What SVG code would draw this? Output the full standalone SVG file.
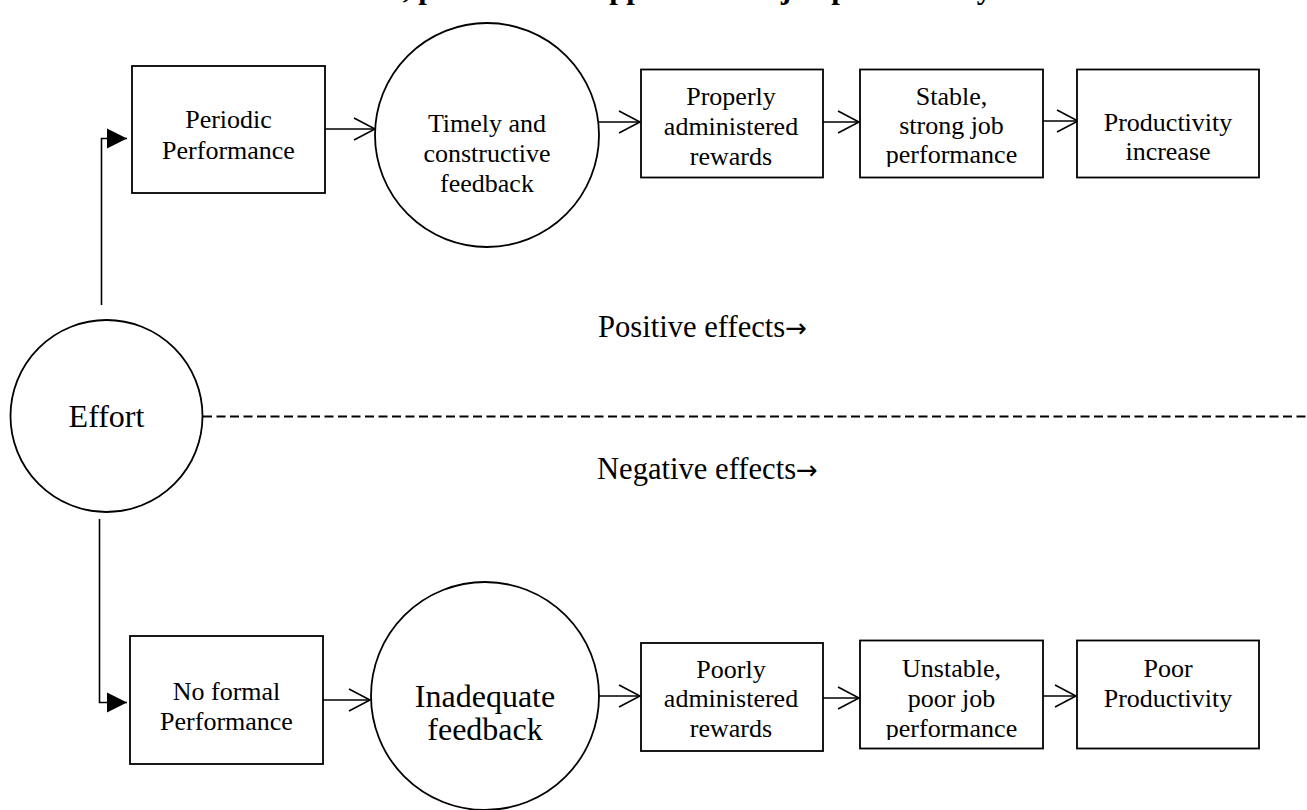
<svg xmlns="http://www.w3.org/2000/svg" width="1307" height="810" viewBox="0 0 1307 810">
  <style>
    text { font-family: "Liberation Serif", "Times New Roman", serif; font-size: 26px; fill: #000; text-anchor: middle; }
    .title { font-size: 30.6px; font-weight: bold; text-anchor: start; }
    .big { font-size: 32px; }
    .section { font-size: 30.6px; text-anchor: start; }
    .arrow { font-family: "DejaVu Sans", sans-serif; font-size: 26px; }
    .shape { fill: #fff; stroke: #000; stroke-width: 1.8; }
    .link { fill: none; stroke: #000; stroke-width: 1.6; }
    .divider { fill: none; stroke: #000; stroke-width: 1.8; stroke-dasharray: 9 4.5; }
  </style>
  <defs>
    <marker id="open" markerUnits="userSpaceOnUse" markerWidth="24" markerHeight="26" refX="21" refY="11" orient="auto" overflow="visible">
      <path d="M0,0 L21,11 L0,22" fill="none" stroke="#000" stroke-width="1.6"/>
    </marker>
    <marker id="solid" markerUnits="userSpaceOnUse" markerWidth="22" markerHeight="22" refX="20" refY="10" orient="auto" overflow="visible">
      <path d="M0,0 L20,10 L0,20 Z" fill="#000"/>
    </marker>
    <clipPath id="clipTop"><rect x="0" y="0" width="1307" height="167"/></clipPath>
    <clipPath id="clipBottom"><rect x="0" y="0" width="1307" height="740"/></clipPath>
  </defs>

  <!-- heading, running off the top edge -->
  <text class="title" x="323" y="-2">Effort, performance appraisal and job productivity</text>

  <!-- connectors -->
  <g id="connectors">
    <path class="link" d="M101.5,305 V138.5 H127" marker-end="url(#solid)"/>
    <path class="link" d="M99.5,519 V702.5 H127" marker-end="url(#solid)"/>
    <line class="link" x1="325" y1="129" x2="375" y2="129" marker-end="url(#open)"/>
    <line class="link" x1="599" y1="122" x2="640" y2="122" marker-end="url(#open)"/>
    <line class="link" x1="823" y1="122" x2="859" y2="122" marker-end="url(#open)"/>
    <line class="link" x1="1043" y1="121" x2="1078" y2="121" marker-end="url(#open)"/>
    <line class="link" x1="323" y1="700" x2="370" y2="700" marker-end="url(#open)"/>
    <line class="link" x1="599" y1="696" x2="640" y2="696" marker-end="url(#open)"/>
    <line class="link" x1="823" y1="698" x2="859" y2="698" marker-end="url(#open)"/>
    <line class="link" x1="1043" y1="696" x2="1076" y2="696" marker-end="url(#open)"/>
    <line class="divider" x1="203" y1="416.5" x2="1307" y2="416.5"/>
  </g>

  <!-- start -->
  <g id="effort">
    <circle class="shape" cx="106.5" cy="416" r="96"/>
    <text class="big" x="106.5" y="427">Effort</text>
  </g>

  <!-- positive path -->
  <g id="periodic-performance">
    <rect class="shape" x="132" y="66" width="193" height="127"/>
    <text x="228.5" y="127.5">Periodic</text>
    <text x="228.5" y="158.5">Performance</text>
  </g>
  <g id="timely-feedback">
    <circle class="shape" cx="487" cy="135" r="112"/>
    <text x="487" y="132">Timely and</text>
    <text x="487" y="162">constructive</text>
    <text x="487" y="192">feedback</text>
  </g>
  <g id="proper-rewards">
    <rect class="shape" x="641" y="69.5" width="182" height="108"/>
    <text x="731" y="105">Properly</text>
    <text x="731" y="135">administered</text>
    <text x="731" y="165">rewards</text>
  </g>
  <g id="strong-performance">
    <rect class="shape" x="860" y="69.5" width="183" height="108"/>
    <g clip-path="url(#clipTop)">
      <text x="951.5" y="105">Stable,</text>
      <text x="951.5" y="134">strong job</text>
      <text x="951.5" y="163">performance</text>
    </g>
  </g>
  <g id="productivity-increase">
    <rect class="shape" x="1077" y="69.5" width="182" height="108"/>
    <text x="1168" y="131">Productivity</text>
    <text x="1168" y="160">increase</text>
  </g>

  <!-- section labels -->
  <text class="section" x="598" y="337">Positive effects<tspan class="arrow">→</tspan></text>
  <text class="section" x="597" y="479">Negative effects<tspan class="arrow">→</tspan></text>

  <!-- negative path -->
  <g id="no-formal-performance">
    <rect class="shape" x="130" y="636" width="193" height="128"/>
    <text x="226.5" y="699.5">No formal</text>
    <text x="226.5" y="729.5">Performance</text>
  </g>
  <g id="inadequate-feedback">
    <circle class="shape" cx="485" cy="696" r="114"/>
    <text class="big" x="485" y="707">Inadequate</text>
    <text class="big" x="485" y="740">feedback</text>
  </g>
  <g id="poor-rewards">
    <rect class="shape" x="641" y="643" width="182" height="108"/>
    <g clip-path="url(#clipBottom)">
      <text x="731" y="678">Poorly</text>
      <text x="731" y="707">administered</text>
      <text x="731" y="737">rewards</text>
    </g>
  </g>
  <g id="poor-performance">
    <rect class="shape" x="860" y="640.5" width="183" height="108"/>
    <g clip-path="url(#clipBottom)">
      <text x="951.5" y="677">Unstable,</text>
      <text x="951.5" y="707">poor job</text>
      <text x="951.5" y="737">performance</text>
    </g>
  </g>
  <g id="poor-productivity">
    <rect class="shape" x="1077" y="640.5" width="182" height="108"/>
    <text x="1168" y="677">Poor</text>
    <text x="1168" y="707">Productivity</text>
  </g>
</svg>
